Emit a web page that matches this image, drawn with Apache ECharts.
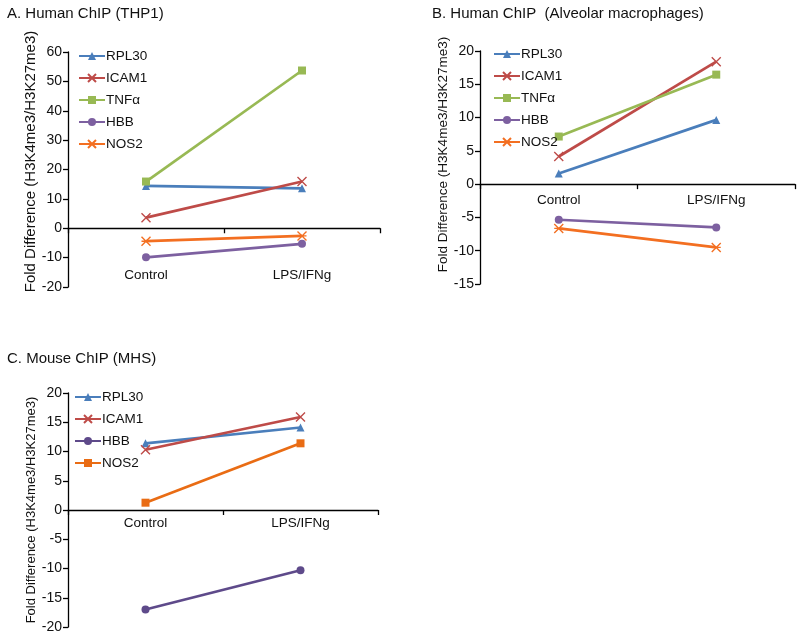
<!DOCTYPE html>
<html>
<head>
<meta charset="utf-8">
<script src="https://cdn.jsdelivr.net/npm/echarts@6/dist/echarts.min.js"></script>
<style>
html,body{margin:0;padding:0;background:#fff;}
#chart{width:800px;height:638px;}
</style>
</head>
<body>
<div id="chart"></div>
<script>
// ---- data ----
const categories = ['Control', 'LPS/IFNg'];

const titleA = 'A. Human ChIP (THP1)';
const titleB = 'B. Human ChIP  (Alveolar macrophages)';
const titleC = 'C. Mouse ChIP (MHS)';
const yAxisName = 'Fold Difference (H3K4me3/H3K27me3)';

// Panel A
const A_RPL30 = [14.4, 13.6];
const A_ICAM1 = [3.6, 15.9];
const A_TNFa  = [15.9, 53.7];
const A_HBB   = [-9.9, -5.3];
const A_NOS2  = [-4.4, -2.6];

// Panel B
const B_RPL30 = [1.6, 9.65];
const B_ICAM1 = [4.15, 18.4];
const B_TNFa  = [7.15, 16.45];
const B_HBB   = [-5.35, -6.5];
const B_NOS2  = [-6.65, -9.5];

// Panel C
const C_RPL30 = [11.4, 14.1];
const C_ICAM1 = [10.3, 15.9];
const C_HBB   = [-17.0, -10.3];
const C_NOS2  = [1.25, 11.4];

const yTicksA = {min: -20, max: 60, interval: 10};
const yTicksB = {min: -15, max: 20, interval: 5};
const yTicksC = {min: -20, max: 20, interval: 5};

const legendA = ['RPL30', 'ICAM1', 'TNFα', 'HBB', 'NOS2'];
const legendB = ['RPL30 ', 'ICAM1 ', 'TNFα ', 'HBB ', 'NOS2 '];
const legendC = ['RPL30  ', 'ICAM1  ', 'HBB  ', 'NOS2  '];

// ---- styles ----
const FONT = 'Liberation Sans, Arial, sans-serif';
const COL = {
  blue: '#4A7EBB', red: '#BE4B48', green: '#98B954', purple: '#7D60A0',
  orange: '#F36F21', darkPurple: '#5E4A8A', orange2: '#E96C14'
};
const SYM_X = 'path://M0,0L10,10M10,0L0,10';
const SYM_AST = 'path://M0,5L10,5M0,0L10,10M10,0L0,10';

function mk(name, data, idx, color, symbol, stroke) {
  return {
    name: name, type: 'line', data: data,
    xAxisIndex: idx, yAxisIndex: idx,
    symbol: symbol, symbolSize: stroke ? 9 : 8,
    showSymbol: true,
    lineStyle: {color: color, width: 2.7},
    itemStyle: stroke ? {color: color, borderColor: color, borderWidth: 1.4} : {color: color},
    emphasis: {disabled: true},
    animation: false
  };
}

function xAx(idx, margin) {
  return {
    type: 'category', gridIndex: idx, data: categories,
    axisLine: {onZero: true, lineStyle: {color: '#000', width: 1.3}},
    axisTick: {show: true, alignWithLabel: false, length: 5, lineStyle: {color: '#000', width: 1.3}},
    axisLabel: {color: '#111', fontSize: 13.5, fontFamily: FONT, margin: margin},
    splitLine: {show: false}
  };
}
function yAx(idx, t, nameSize, nameGap, namePad) {
  return {
    type: 'value', gridIndex: idx, min: t.min, max: t.max, interval: t.interval,
    name: yAxisName, nameLocation: 'middle', nameGap: nameGap,
    nameTextStyle: {color: '#111', fontSize: nameSize, fontFamily: FONT, padding: [0, 0, 0, namePad]},
    axisLine: {show: true, onZero: false, lineStyle: {color: '#000', width: 1.3}},
    axisTick: {show: true, length: 5, lineStyle: {color: '#000', width: 1.3}},
    axisLabel: {color: '#111', fontSize: 14, fontFamily: FONT, margin: 6},
    splitLine: {show: false}
  };
}
function lg(names, left, top) {
  return {
    orient: 'vertical', left: left, top: top,
    data: names, itemWidth: 26, itemHeight: 10, itemGap: 8,
    textStyle: {color: '#111', fontSize: 13.5, fontFamily: FONT, padding: [0,0,0,-4]},
    selectedMode: false, padding: 0
  };
}
const titleStyle = {color: '#111', fontSize: 15, fontWeight: 'normal', fontFamily: FONT};

const option = {
  backgroundColor: '#fff',
  animation: false,
  title: [
    {text: titleA, left: 7, top: 6, textStyle: titleStyle, padding: 0},
    {text: titleB, left: 432, top: 6, textStyle: titleStyle, padding: 0},
    {text: titleC, left: 7, top: 351, textStyle: titleStyle, padding: 0}
  ],
  grid: [
    {left: 68, top: 52, width: 312, height: 235, outerBoundsMode: 'none', containLabel: false},
    {left: 480, top: 51, width: 315, height: 233, outerBoundsMode: 'none', containLabel: false},
    {left: 68, top: 393, width: 310, height: 234, outerBoundsMode: 'none', containLabel: false}
  ],
  xAxis: [xAx(0, -19), xAx(1, -91), xAx(2, -111)],
  yAxis: [yAx(0, yTicksA, 15, 21, 16), yAx(1, yTicksB, 13.5, 22, 26), yAx(2, yTicksC, 13, 22, 0)],
  legend: [lg(legendA, 78, 49), lg(legendB, 493, 47), lg(legendC, 74, 390)],
  series: [
    mk(legendA[0], A_RPL30, 0, COL.blue, 'triangle'),
    mk(legendA[1], A_ICAM1, 0, COL.red, SYM_X, true),
    mk(legendA[2], A_TNFa, 0, COL.green, 'rect'),
    mk(legendA[3], A_HBB, 0, COL.purple, 'circle'),
    mk(legendA[4], A_NOS2, 0, COL.orange, SYM_AST, true),

    mk(legendB[0], B_RPL30, 1, COL.blue, 'triangle'),
    mk(legendB[1], B_ICAM1, 1, COL.red, SYM_X, true),
    mk(legendB[2], B_TNFa, 1, COL.green, 'rect'),
    mk(legendB[3], B_HBB, 1, COL.purple, 'circle'),
    mk(legendB[4], B_NOS2, 1, COL.orange, SYM_AST, true),

    mk(legendC[0], C_RPL30, 2, COL.blue, 'triangle'),
    mk(legendC[1], C_ICAM1, 2, COL.red, SYM_X, true),
    mk(legendC[2], C_HBB, 2, COL.darkPurple, 'circle'),
    mk(legendC[3], C_NOS2, 2, COL.orange2, 'rect')
  ]
};

const chart = echarts.init(document.getElementById('chart'), null, {renderer: 'canvas'});
chart.setOption(option);
</script>
</body>
</html>
